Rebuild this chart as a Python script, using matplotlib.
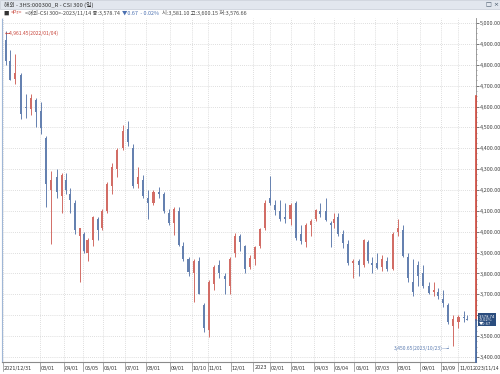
import numpy as np
import pandas as pd
import matplotlib
matplotlib.use('Agg')
import matplotlib.pyplot as plt
from matplotlib.patches import Rectangle
from matplotlib.ticker import MultipleLocator, FuncFormatter
from matplotlib.transforms import blended_transform_factory

plt.rcParams['font.family'] = ['Noto Sans CJK KR', 'DejaVu Sans']

# jours fériés (marché chinois)
holidays = ['2022-01-03', '2022-01-31', '2022-02-01', '2022-02-02', '2022-02-03', '2022-02-04',
            '2022-04-04', '2022-04-05', '2022-05-02', '2022-05-03', '2022-05-04', '2022-06-03',
            '2022-09-12', '2022-10-03', '2022-10-04', '2022-10-05', '2022-10-06', '2022-10-07',
            '2023-01-02', '2023-01-23', '2023-01-24', '2023-01-25', '2023-01-26', '2023-01-27',
            '2023-04-05', '2023-05-01', '2023-05-02', '2023-05-03', '2023-06-22', '2023-06-23',
            '2023-09-29', '2023-10-02', '2023-10-03', '2023-10-04', '2023-10-05', '2023-10-06']

# bougies hebdomadaires CSI 300 (2022/01 -> 2023/11/14)
opens = [4917, 4820, 4730, 4750, 4600, 4590, 4630, 4580, 4450, 4200, 4260, 4170, 4250, 4180, 4140, 3980,
         3990, 3900, 3960, 4060, 4020, 4100, 4220, 4300, 4400, 4490, 4400, 4230, 4250, 4160, 4140, 4190,
         4180, 4090, 4040, 4100, 3930, 3870, 3800, 3860, 3650, 3530, 3750, 3840, 3790, 3740, 3900, 3980,
         3930, 3830,
         3870, 3930, 4020, 4160, 4130, 4100, 4070, 4060, 4140, 3990, 3950, 4030, 4060, 4100, 4100, 4040,
         4040, 4070, 3990, 3940, 3850, 3860, 3840, 3950, 3850, 3850, 3830, 3860, 3820, 4000, 4010, 3880,
         3760, 3840, 3800, 3740, 3710, 3710, 3680, 3650, 3550, 3570, 3590, 3581]
highs = [4961, 4870, 4850, 4760, 4660, 4660, 4640, 4620, 4460, 4290, 4300, 4280, 4280, 4210, 4150, 4020,
         4000, 3970, 4075, 4070, 4110, 4240, 4330, 4400, 4510, 4530, 4420, 4310, 4270, 4200, 4200, 4215,
         4190, 4110, 4120, 4119, 3950, 3880, 3870, 3880, 3660, 3770, 3840, 3865, 3800, 3880, 3995, 3990,
         3935, 3890,
         3930, 4020, 4150, 4268, 4150, 4150, 4140, 4140, 4145, 4030, 4040, 4060, 4110, 4140, 4162, 4050,
         4090, 4090, 4010, 3960, 3870, 3870, 3965, 3960, 3880, 3900, 3890, 3880, 4000, 4060, 4030, 3900,
         3870, 3860, 3840, 3760, 3760, 3730, 3720, 3660, 3600, 3600, 3620, 3600]
lows = [4800, 4725, 4710, 4540, 4545, 4560, 4500, 4470, 4120, 3942, 4160, 4090, 4180, 4090, 3990, 3757,
        3900, 3860, 3930, 3960, 4010, 4090, 4180, 4260, 4390, 4410, 4210, 4210, 4160, 4060, 4130, 4160,
        4090, 4030, 3985, 3930, 3860, 3790, 3664, 3700, 3520, 3496, 3720, 3780, 3700, 3700, 3880, 3910,
        3800, 3820,
        3840, 3920, 4010, 4130, 4080, 4050, 4040, 4030, 3960, 3940, 3927, 3980, 4050, 4070, 4050, 3927,
        4020, 3980, 3920, 3840, 3780, 3790, 3830, 3850, 3800, 3820, 3810, 3810, 3815, 3980, 3880, 3760,
        3690, 3740, 3730, 3700, 3690, 3680, 3640, 3560, 3450.65, 3540, 3570, 3576]
closes = [4818, 4727, 4760, 4563, 4595, 4640, 4574, 4496, 4230, 4250, 4190, 4270, 4200, 4150, 4010, 4016,
          3908, 3960, 4070, 4010, 4100, 4230, 4310, 4390, 4485, 4430, 4220, 4260, 4170, 4140, 4190, 4180,
          4100, 4043, 4110, 3935, 3870, 3805, 3860, 3700, 3540, 3760, 3830, 3800, 3775, 3870, 3980, 3950,
          3820, 3872,
          3925, 4015, 4140, 4140, 4105, 4060, 4060, 4130, 3968, 3958, 4030, 4050, 4106, 4085, 4055, 4030,
          4060, 3990, 3945, 3850, 3860, 3840, 3960, 3860, 3842, 3826, 3869, 3820, 3990, 4020, 3885, 3780,
          3710, 3790, 3740, 3708, 3720, 3690, 3660, 3570, 3580, 3590, 3585, 3578.74]

tick_dates = ['2021-12-31', '2022-03-01', '2022-04-01', '2022-05-05', '2022-06-01', '2022-07-01',
              '2022-08-01', '2022-09-01', '2022-10-10', '2022-11-01', '2022-12-01', '2023-01-03',
              '2023-02-01', '2023-03-01', '2023-04-03', '2023-05-04', '2023-06-01', '2023-07-03',
              '2023-08-01', '2023-09-01', '2023-10-09', '2023-11-01']
tick_labels = ['2021/12/31', '03/01', '04/01', '05/05', '06/01', '07/01', '08/01', '09/01', '10/10',
               '11/01', '12/01', '2023', '02/01', '03/01', '04/03', '05/04', '06/01', '07/03', '08/01',
               '09/01', '10/09', '11/01']
last_label = '2023/11/14'

last = 3578.74
high_pt = (4961.45, '2022-01-04')
low_pt = (3450.65, '2023-10-23')

#calendrier des séances
cal = pd.bdate_range('2021-12-31', '2023-11-14')
cal = cal[~cal.isin(pd.to_datetime(holidays))]
pos = np.arange(len(cal))
wx = pd.Series(pos, index=cal).groupby(cal.to_period('W')).mean().values[1:]

o = np.array(opens, float)
h = np.array(highs, float)
l = np.array(lows, float)
c = np.array(closes, float)

RED = '#d26d66'
BLUE = '#6581b0'
cols = np.where(c >= o, RED, BLUE)

fig = plt.figure(figsize=(5, 3.74), dpi=100)
W, H = 500, 374
ax = fig.add_axes([2 / W, 12 / H, 474 / W, 344 / H])
ax.set_xlim(-1, 459)
ax.set_ylim(3376, 5024)

#grille
ax.yaxis.set_major_locator(MultipleLocator(100))
ax.yaxis.set_minor_locator(MultipleLocator(25))
tpos = [cal.get_loc(pd.Timestamp(d)) for d in tick_dates]
ax.set_xticks(tpos)
ax.set_xticklabels([])
ax.grid(True, axis='both', color='#d4d4d4', linestyle=(0, (1, 1.5)), linewidth=0.6)
ax.set_axisbelow(True)

#bougies
ax.vlines(wx, l, h, colors=cols, linewidth=0.7)
body = np.maximum(np.abs(c - o), 4)
ax.bar(wx, body, bottom=np.minimum(o, c), width=2.0, color=cols, linewidth=0)

#axes
ax.spines['top'].set_visible(False)
ax.spines['left'].set_color('#9fb6d6')
ax.spines['left'].set_linestyle((0, (1, 1)))
ax.spines['bottom'].set_color('#8a8a8a')
ax.spines['bottom'].set_linewidth(0.8)
ax.spines['right'].set_color('#8a8a8a')
ax.spines['right'].set_linewidth(0.6)
tr = blended_transform_factory(ax.transAxes, ax.transData)
ax.plot([1, 1], [4650, last], transform=tr, color='#d0483c', linewidth=1.2, clip_on=False, zorder=5)
ax.plot([1, 1], [3376, last], transform=tr, color='#3f64a0', linewidth=1.2, clip_on=False, zorder=5)

ax.yaxis.tick_right()
ax.yaxis.set_major_formatter(FuncFormatter(lambda v, p: '' if abs(v - 3600) < 1 else '{:,.2f}'.format(v)))
ax.tick_params(axis='y', which='major', labelsize=4, colors='#444444', length=2, width=0.5, pad=1)
ax.tick_params(axis='y', which='minor', length=1, width=0.4, colors='#666666')
ax.tick_params(axis='x', length=0)

tb = blended_transform_factory(ax.transData, ax.transAxes)
for p, lab in zip(tpos, tick_labels):
    ax.plot([p, p], [0, -0.025], transform=tb, color='#8a8a8a', linewidth=0.5, clip_on=False)
    ax.text(p + 0.8, -0.009, lab, transform=tb, fontsize=3.5, color='#333333', ha='left', va='top',
            family=['DejaVu Sans'])
fig.text(499.5 / W, 1 - 365 / H, last_label, fontsize=3.3, color='#333333', ha='right', va='top',
         family=['DejaVu Sans'])

#prix courant
ax.annotate('3,578.74\n-0.02%\n▼0.67', xy=(1, last), xycoords=('axes fraction', 'data'),
            xytext=(2, 0), textcoords='offset points', fontsize=3, color='white',
            ha='left', va='center', linespacing=0.9, annotation_clip=False, zorder=10,
            bbox=dict(boxstyle='square,pad=0.25', fc='#2b4d7e', ec='none'))

#plus haut / plus bas
hx = cal.get_loc(pd.Timestamp(high_pt[1]))
ax.text(hx + 0.5, high_pt[0] - 10, '←{:,.2f}({})'.format(high_pt[0], high_pt[1].replace('-', '/')),
        fontsize=3.6, color='#c8453b', ha='left', va='center')
lx = wx[np.argmin(l)]
ax.text(lx - 1, low_pt[0] - 8, '{:,.2f}({})—┘'.format(low_pt[0], low_pt[1].replace('-', '/')),
        fontsize=3.6, color='#5a7bb0', ha='right', va='center')

#bandeau titre
fig.patches.append(Rectangle((0, 1 - 9 / H), 1, 9 / H, transform=fig.transFigure,
                             facecolor='#e2e7ee', edgecolor='#c5ccd6', linewidth=0.5))
fig.text(4 / W, 1 - 4.5 / H, '해외 - 3HS:000300_R - CSI 300 (일)', fontsize=4.2, color='#333333',
         va='center', ha='left')
fig.text(486 / W, 1 - 4.5 / H, '□ ×', fontsize=4.5, color='#445566', va='center', ha='left',
         family=['DejaVu Sans'])

# ligne de légende, morceaux posés l'un après l'autre
pieces = [('■', '#333333'), ('<Pr>', '#c8453b'), ('<해외-CSI 300>-2023/11/14 종:3,578.74', '#444444'),
          ('▼0.67  - 0.02%', '#4a6fb0'), ('시:3,581.10 고:3,600.15 저:3,576.66', '#444444')]
rend = fig.canvas.get_renderer()
xp = 3
yl = 1 - 13 / H
for txt, col in pieces:
    t = fig.text(xp / W, yl, txt, fontsize=3.9, color=col, va='center', ha='left')
    xp = t.get_window_extent(rend).x1 + 2.5

fig.savefig('out.png', dpi=100)
